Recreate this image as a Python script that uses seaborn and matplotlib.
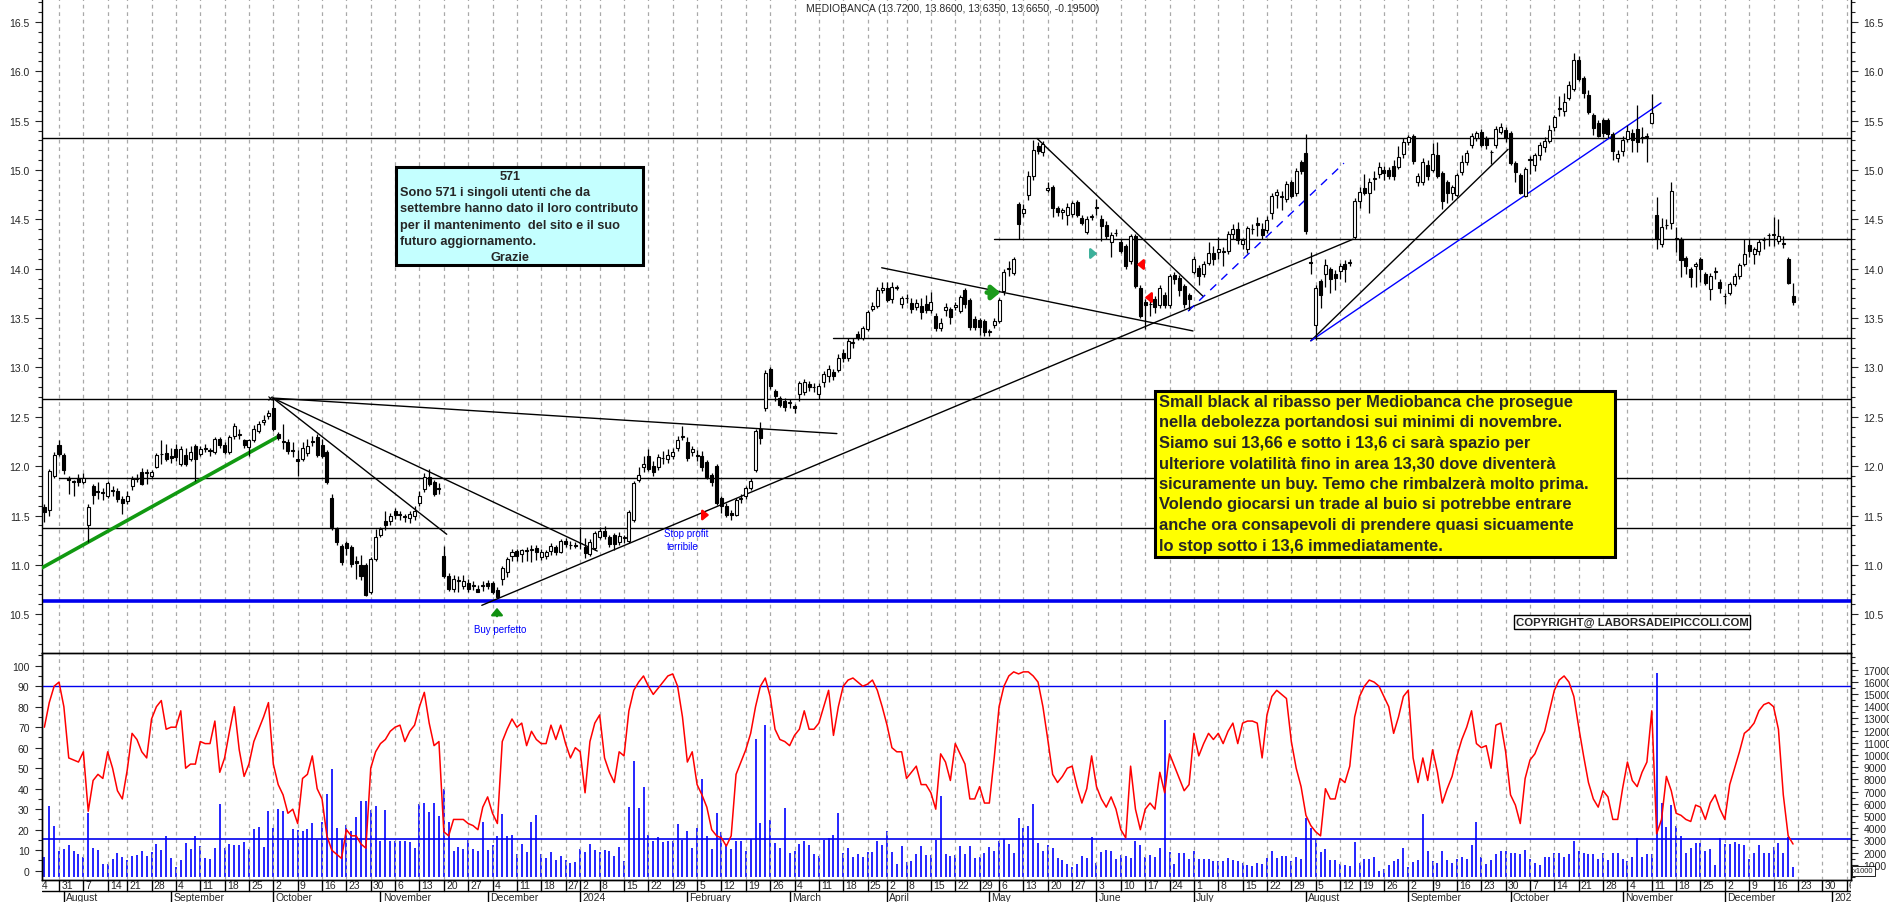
import numpy as np
import pandas as pd
import matplotlib
matplotlib.use("Agg")
import matplotlib.pyplot as plt
import matplotlib.transforms as mtrans
from matplotlib.patches import Rectangle, FancyArrowPatch
from matplotlib.ticker import MultipleLocator, FuncFormatter
import seaborn as sns

sns.set_style("white")
plt.rcParams["font.family"] = ["Liberation Sans", "DejaVu Sans"]

# ---------- DATA (daily candles from 26 Jul 2023 to 20 Dec 2024) ----------
opens = [
    11.59, 11.56, 11.90, 12.21, 12.11, 11.88, 11.85, 11.88, 11.84, 11.40,
    11.80, 11.75, 11.74, 11.70, 11.75, 11.75, 11.67, 11.65, 11.80, 11.87,
    11.94, 11.93, 11.90, 11.99, 12.12, 12.13, 12.10, 12.17, 12.02, 12.11,
    12.07, 12.20, 12.12, 12.17, 12.15, 12.14, 12.28, 12.21, 12.14, 12.31,
    12.32, 12.26, 12.19, 12.26, 12.36, 12.45, 12.51, 12.59, 12.33, 12.25,
    12.24, 12.16, 12.07, 12.07, 12.13, 12.25, 12.30, 12.21, 12.14, 11.68,
    11.36, 11.19, 11.22, 11.18, 11.04, 11.00, 11.00, 10.72, 11.06, 11.30,
    11.44, 11.44, 11.55, 11.52, 11.49, 11.47, 11.50, 11.63, 11.77, 11.89,
    11.84, 11.78, 11.09, 10.89, 10.76, 10.84, 10.79, 10.82, 10.80, 10.76,
    10.79, 10.82, 10.82, 10.75, 10.86, 10.93, 11.09, 11.14, 11.11, 11.14,
    11.15, 11.17, 11.08, 11.09, 11.14, 11.18, 11.13, 11.24, 11.20, 11.20,
    11.22, 11.18, 11.11, 11.17, 11.28, 11.34, 11.28, 11.30, 11.23, 11.27,
    11.24, 11.45, 11.86, 11.99, 12.10, 12.00, 11.99, 12.08, 12.07, 12.10,
    12.18, 12.30, 12.24, 12.14, 12.11, 12.10, 12.04, 11.91, 12.00, 11.68,
    11.60, 11.53, 11.51, 11.67, 11.70, 11.78, 11.96, 12.38, 12.59, 12.98,
    12.76, 12.69, 12.66, 12.64, 12.61, 12.73, 12.75, 12.83, 12.80, 12.73,
    12.85, 12.91, 12.95, 12.97, 13.15, 13.10, 13.25, 13.34, 13.30, 13.39,
    13.59, 13.62, 13.78, 13.80, 13.69, 13.81, 13.64, 13.70, 13.65, 13.61,
    13.62, 13.64, 13.58, 13.52, 13.40, 13.58, 13.59, 13.61, 13.57, 13.78,
    13.68, 13.49, 13.48, 13.47, 13.36, 13.43, 13.47, 13.77, 14.00, 13.96,
    14.66, 14.56, 14.75, 14.94, 15.24, 15.18, 14.80, 14.83, 14.62, 14.58,
    14.54, 14.55, 14.68, 14.51, 14.37, 14.52, 14.62, 14.50, 14.44, 14.27,
    14.36, 14.27, 14.23, 14.08, 14.33, 13.81, 13.66, 13.64, 13.69, 13.63,
    13.73, 13.63, 13.94, 13.91, 13.83, 13.73, 13.97, 14.01, 13.95, 14.06,
    14.16, 14.17, 14.17, 14.18, 14.35, 14.40, 14.25, 14.20, 14.40, 14.46,
    14.40, 14.39, 14.56, 14.75, 14.73, 14.71, 14.88, 14.77, 15.08, 15.17,
    14.07, 13.43, 13.88, 13.95, 14.00, 13.95, 13.98, 14.05, 14.06, 14.32,
    14.69, 14.82, 14.77, 14.91, 14.96, 15.00, 15.00, 15.04, 15.03, 15.16,
    15.28, 15.34, 14.88, 14.88, 15.05, 15.00, 15.15, 14.97, 14.88, 14.77,
    14.75, 14.98, 15.08, 15.25, 15.32, 15.39, 15.32, 15.18, 15.25, 15.39,
    15.41, 15.38, 15.07, 14.95, 14.74, 15.10, 15.05, 15.15, 15.23, 15.29,
    15.44, 15.62, 15.60, 15.73, 15.82, 16.12, 15.93, 15.76, 15.56, 15.48,
    15.51, 15.51, 15.37, 15.12, 15.19, 15.31, 15.38, 15.42, 15.33, 15.33,
    15.48, 14.54, 14.25, 14.44, 14.46, 14.31, 14.30, 14.11, 14.00, 14.03,
    14.10, 13.95, 13.79, 13.97, 13.87, 13.72, 13.75, 13.85, 13.93, 14.05,
    14.24, 14.15, 14.18, 14.29, 14.34, 14.34, 14.28, 14.25, 14.10, 13.72,
]
highs = [
    11.62, 11.97, 12.14, 12.26, 12.13, 11.90, 11.86, 11.92, 11.93, 11.62,
    11.82, 11.84, 11.78, 11.85, 11.80, 11.78, 11.70, 11.75, 11.90, 11.92,
    11.98, 11.97, 11.96, 12.13, 12.26, 12.22, 12.18, 12.22, 12.20, 12.18,
    12.20, 12.22, 12.20, 12.22, 12.18, 12.30, 12.30, 12.24, 12.32, 12.44,
    12.38, 12.28, 12.28, 12.42, 12.46, 12.52, 12.57, 12.68, 12.35, 12.43,
    12.28, 12.24, 12.16, 12.24, 12.28, 12.31, 12.33, 12.28, 12.16, 11.72,
    11.38, 11.21, 11.24, 11.20, 11.09, 11.10, 11.02, 11.08, 11.36, 11.38,
    11.55, 11.53, 11.58, 11.55, 11.52, 11.55, 11.60, 11.75, 11.93, 11.97,
    11.86, 11.83, 11.19, 10.92, 10.90, 10.89, 10.90, 10.86, 10.84, 10.80,
    10.84, 10.85, 10.84, 10.78, 10.99, 11.08, 11.16, 11.16, 11.16, 11.18,
    11.20, 11.20, 11.16, 11.15, 11.22, 11.20, 11.26, 11.27, 11.24, 11.23,
    11.38, 11.27, 11.26, 11.34, 11.38, 11.39, 11.30, 11.32, 11.33, 11.30,
    11.56, 11.85, 11.99, 12.10, 12.17, 12.05, 12.12, 12.15, 12.17, 12.18,
    12.31, 12.41, 12.30, 12.20, 12.16, 12.15, 12.06, 11.93, 12.02, 11.70,
    11.63, 11.56, 11.68, 11.72, 11.80, 11.88, 12.38, 12.45, 12.97, 13.00,
    12.78, 12.71, 12.69, 12.68, 12.63, 12.86, 12.88, 12.86, 12.84, 12.84,
    12.96, 13.02, 12.98, 13.14, 13.19, 13.30, 13.30, 13.37, 13.42, 13.58,
    13.66, 13.82, 13.87, 13.87, 13.87, 13.84, 13.72, 13.74, 13.70, 13.69,
    13.70, 13.73, 13.76, 13.55, 13.50, 13.65, 13.61, 13.66, 13.73, 13.81,
    13.70, 13.52, 13.50, 13.49, 13.39, 13.50, 13.70, 14.00, 14.08, 14.12,
    14.68, 14.66, 14.99, 15.30, 15.28, 15.29, 14.88, 14.85, 14.64, 14.62,
    14.67, 14.69, 14.70, 14.54, 14.53, 14.55, 14.71, 14.54, 14.48, 14.37,
    14.40, 14.30, 14.25, 14.35, 14.35, 13.84, 13.69, 13.72, 13.72, 13.84,
    13.76, 13.95, 13.97, 13.94, 13.85, 13.75, 14.13, 14.04, 14.08, 14.27,
    14.23, 14.32, 14.22, 14.38, 14.45, 14.47, 14.31, 14.43, 14.45, 14.52,
    14.46, 14.53, 14.77, 14.81, 14.79, 14.89, 14.90, 15.02, 15.10, 15.37,
    14.17, 13.84, 13.90, 14.10, 14.02, 13.99, 14.06, 14.09, 14.10, 14.72,
    14.83, 14.96, 14.92, 14.99, 15.08, 15.04, 15.03, 15.10, 15.24, 15.32,
    15.36, 15.37, 14.97, 15.12, 15.10, 15.27, 15.28, 14.99, 14.90, 14.85,
    14.97, 15.15, 15.20, 15.38, 15.40, 15.42, 15.35, 15.20, 15.45, 15.48,
    15.44, 15.40, 15.09, 14.97, 15.03, 15.14, 15.17, 15.28, 15.33, 15.46,
    15.56, 15.75, 15.78, 15.90, 16.19, 16.16, 15.95, 15.81, 15.58, 15.51,
    15.53, 15.53, 15.39, 15.20, 15.34, 15.46, 15.42, 15.66, 15.44, 15.38,
    15.77, 14.73, 14.51, 14.50, 14.88, 14.42, 14.32, 14.13, 14.02, 14.07,
    14.12, 13.97, 13.96, 14.02, 13.90, 13.75, 13.87, 13.96, 14.06, 14.30,
    14.30, 14.22, 14.30, 14.32, 14.36, 14.52, 14.50, 14.33, 14.12, 13.86,
]
lows = [
    11.43, 11.50, 11.88, 12.10, 11.92, 11.72, 11.70, 11.80, 11.82, 11.23,
    11.62, 11.67, 11.66, 11.68, 11.70, 11.64, 11.52, 11.62, 11.76, 11.84,
    11.81, 11.82, 11.88, 11.98, 12.02, 12.05, 12.03, 12.05, 12.00, 12.00,
    12.05, 11.85, 12.10, 12.14, 12.10, 12.12, 12.18, 12.12, 12.12, 12.28,
    12.28, 12.18, 12.10, 12.24, 12.34, 12.42, 12.48, 12.36, 12.27, 12.17,
    12.12, 12.09, 11.90, 12.05, 12.10, 12.20, 12.09, 12.08, 11.82, 11.35,
    11.20, 11.00, 11.10, 10.98, 10.86, 10.85, 10.68, 10.70, 11.04, 11.28,
    11.35, 11.40, 11.46, 11.45, 11.43, 11.42, 11.45, 11.60, 11.74, 11.80,
    11.70, 11.72, 10.87, 10.74, 10.72, 10.72, 10.76, 10.73, 10.75, 10.72,
    10.74, 10.76, 10.70, 10.66, 10.80, 10.88, 11.04, 11.04, 11.03, 11.04,
    11.03, 11.05, 11.05, 11.06, 11.10, 11.10, 11.12, 11.18, 11.16, 11.17,
    11.16, 11.07, 11.09, 11.15, 11.26, 11.26, 11.18, 11.15, 11.20, 11.22,
    11.22, 11.43, 11.84, 11.94, 11.95, 11.90, 11.96, 12.02, 12.03, 12.07,
    12.15, 12.27, 12.05, 12.10, 12.05, 11.95, 11.87, 11.80, 11.61, 11.53,
    11.48, 11.45, 11.49, 11.63, 11.67, 11.76, 11.94, 12.22, 12.56, 12.78,
    12.66, 12.60, 12.56, 12.59, 12.54, 12.66, 12.72, 12.76, 12.75, 12.68,
    12.80, 12.85, 12.87, 12.95, 13.06, 13.07, 13.20, 13.28, 13.28, 13.37,
    13.57, 13.60, 13.75, 13.66, 13.65, 13.78, 13.60, 13.65, 13.55, 13.58,
    13.49, 13.55, 13.55, 13.37, 13.37, 13.52, 13.44, 13.58, 13.55, 13.60,
    13.38, 13.38, 13.33, 13.32, 13.32, 13.40, 13.45, 13.73, 13.93, 13.94,
    14.30, 14.52, 14.70, 14.90, 15.16, 15.14, 14.78, 14.52, 14.53, 14.50,
    14.44, 14.52, 14.52, 14.44, 14.35, 14.49, 14.54, 14.28, 14.30, 14.12,
    14.33, 14.16, 14.00, 14.05, 13.80, 13.50, 13.39, 13.52, 13.55, 13.60,
    13.60, 13.60, 13.85, 13.72, 13.60, 13.58, 13.95, 13.84, 13.92, 14.04,
    14.04, 14.10, 14.03, 14.15, 14.30, 14.25, 14.20, 14.16, 14.35, 14.33,
    14.30, 14.36, 14.50, 14.62, 14.60, 14.68, 14.72, 14.74, 14.96, 14.35,
    13.95, 13.28, 13.60, 13.82, 13.75, 13.78, 13.90, 13.87, 14.03, 14.30,
    14.62, 14.75, 14.56, 14.80, 14.92, 14.90, 14.91, 14.90, 15.01, 15.12,
    15.25, 15.06, 14.84, 14.85, 14.90, 14.98, 14.92, 14.61, 14.67, 14.70,
    14.73, 14.95, 15.05, 15.22, 15.29, 15.23, 15.21, 15.06, 15.22, 15.37,
    15.28, 15.05, 14.88, 14.76, 14.73, 14.96, 14.99, 15.10, 15.18, 15.27,
    15.40, 15.55, 15.55, 15.71, 15.80, 15.90, 15.73, 15.57, 15.36, 15.33,
    15.33, 15.32, 15.10, 15.08, 15.14, 15.28, 15.18, 15.18, 15.27, 15.08,
    15.47, 14.20, 14.22, 14.40, 14.40, 14.17, 13.92, 13.95, 13.82, 13.82,
    13.87, 13.84, 13.68, 13.90, 13.75, 13.64, 13.73, 13.83, 13.90, 14.03,
    14.12, 14.05, 14.14, 14.20, 14.23, 14.23, 14.25, 14.21, 13.85, 13.635,
]
closes = [
    11.54, 11.95, 12.11, 12.12, 11.96, 11.86, 11.84, 11.84, 11.88, 11.59,
    11.71, 11.74, 11.73, 11.83, 11.76, 11.67, 11.63, 11.70, 11.87, 11.88,
    11.82, 11.94, 11.94, 12.11, 12.12, 12.07, 12.08, 12.09, 12.17, 12.02,
    12.14, 12.07, 12.17, 12.18, 12.16, 12.28, 12.21, 12.14, 12.30, 12.41,
    12.32, 12.21, 12.26, 12.38, 12.43, 12.47, 12.54, 12.38, 12.29, 12.24,
    12.15, 12.15, 12.05, 12.18, 12.20, 12.24, 12.11, 12.10, 11.84, 11.38,
    11.23, 11.03, 11.17, 11.01, 11.02, 10.89, 10.69, 11.06, 11.28, 11.36,
    11.40, 11.50, 11.51, 11.51, 11.48, 11.52, 11.55, 11.70, 11.89, 11.82,
    11.72, 11.77, 10.89, 10.76, 10.86, 10.85, 10.84, 10.76, 10.79, 10.73,
    10.80, 10.79, 10.72, 10.67, 10.97, 11.06, 11.13, 11.09, 11.15, 11.14,
    11.16, 11.13, 11.13, 11.13, 11.19, 11.13, 11.24, 11.21, 11.20, 11.19,
    11.22, 11.12, 11.23, 11.32, 11.34, 11.29, 11.21, 11.21, 11.29, 11.28,
    11.54, 11.83, 11.91, 12.02, 11.97, 11.94, 12.09, 12.08, 12.11, 12.14,
    12.27, 12.30, 12.08, 12.17, 12.10, 11.99, 11.89, 11.84, 11.63, 11.60,
    11.51, 11.51, 11.66, 11.68, 11.78, 11.85, 12.36, 12.29, 12.94, 12.81,
    12.71, 12.62, 12.60, 12.64, 12.59, 12.84, 12.85, 12.80, 12.80, 12.81,
    12.93, 12.98, 12.91, 13.10, 13.10, 13.27, 13.25, 13.30, 13.40, 13.56,
    13.62, 13.78, 13.81, 13.68, 13.82, 13.81, 13.70, 13.70, 13.59, 13.65,
    13.56, 13.58, 13.66, 13.40, 13.45, 13.61, 13.51, 13.63, 13.71, 13.64,
    13.41, 13.41, 13.41, 13.36, 13.36, 13.47, 13.68, 13.97, 14.01, 14.10,
    14.45, 14.61, 14.94, 15.20, 15.19, 15.26, 14.82, 14.62, 14.58, 14.60,
    14.63, 14.67, 14.54, 14.46, 14.50, 14.53, 14.62, 14.43, 14.33, 14.34,
    14.36, 14.18, 14.03, 14.33, 13.83, 13.52, 13.63, 13.64, 13.61, 13.81,
    13.63, 13.93, 13.90, 13.78, 13.64, 13.69, 14.10, 13.93, 14.05, 14.16,
    14.10, 14.20, 14.17, 14.35, 14.40, 14.29, 14.29, 14.41, 14.40, 14.44,
    14.34, 14.49, 14.74, 14.78, 14.74, 14.86, 14.74, 14.99, 14.99, 14.38,
    14.06, 13.81, 13.73, 14.04, 13.90, 13.91, 14.03, 14.00, 14.07, 14.69,
    14.78, 14.77, 14.88, 14.91, 15.03, 14.97, 14.94, 14.94, 15.13, 15.28,
    15.33, 15.09, 14.94, 15.08, 14.94, 15.16, 14.94, 14.69, 14.77, 14.83,
    14.95, 15.08, 15.17, 15.34, 15.38, 15.25, 15.25, 15.18, 15.42, 15.44,
    15.32, 15.07, 14.98, 14.77, 15.01, 15.11, 15.15, 15.25, 15.29, 15.41,
    15.54, 15.62, 15.69, 15.86, 16.12, 15.92, 15.78, 15.59, 15.43, 15.35,
    15.38, 15.37, 15.19, 15.16, 15.30, 15.40, 15.30, 15.28, 15.32, 15.35,
    15.58, 14.30, 14.42, 14.44, 14.79, 14.30, 14.09, 14.03, 13.92, 14.05,
    14.00, 13.86, 13.93, 13.97, 13.81, 13.72, 13.85, 13.93, 14.04, 14.15,
    14.18, 14.20, 14.27, 14.29, 14.34, 14.35, 14.33, 14.25, 13.86, 13.665,
]
# volume, thousands of shares
volume_k = [
    1.66, 5.79, 4.17, 2.13, 2.30, 2.62, 2.13, 1.88, 1.61, 5.26,
    2.38, 2.22, 1.07, 1.07, 1.48, 1.96, 1.65, 1.39, 1.75, 1.81,
    2.13, 1.75, 2.08, 2.70, 2.22, 3.36, 1.56, 0.86, 1.39, 2.79,
    2.30, 3.36, 2.55, 1.56, 1.48, 2.38, 5.99, 2.38, 2.70, 2.62,
    2.62, 2.87, 2.30, 3.95, 4.10, 2.47, 5.43, 4.01, 5.58, 5.43,
    3.04, 3.95, 3.86, 3.78, 3.95, 4.43, 3.04, 4.54, 6.82, 8.87,
    4.01, 3.12, 4.27, 3.78, 4.92, 6.23, 6.23, 5.49, 5.79, 2.96,
    5.53, 2.96, 2.96, 2.96, 2.96, 2.87, 2.38, 5.99, 6.08, 5.34,
    6.08, 5.00, 7.24, 4.48, 2.13, 2.47, 2.30, 3.04, 2.30, 2.17,
    4.48, 2.23, 2.62, 3.36, 5.19, 3.36, 3.41, 1.86, 2.69, 2.08,
    4.48, 5.12, 1.86, 1.53, 2.08, 1.36, 1.70, 1.36, 1.11, 1.19,
    2.27, 2.08, 2.69, 2.20, 2.08, 2.20, 2.17, 1.70, 2.50, 1.28,
    5.76, 9.54, 5.63, 7.41, 3.44, 2.96, 3.24, 2.86, 2.96, 2.92,
    4.38, 3.01, 3.76, 2.38, 4.05, 8.05, 3.36, 2.30, 5.26, 3.66,
    2.70, 2.30, 2.96, 2.96, 2.13, 3.12, 11.32, 4.43, 12.45, 4.70,
    2.79, 2.38, 5.66, 1.96, 2.13, 2.70, 2.96, 2.62, 1.88, 1.73,
    3.04, 3.21, 3.44, 5.26, 1.96, 2.38, 1.65, 1.88, 1.65, 2.05,
    2.05, 2.96, 2.62, 3.78, 2.05, 1.07, 2.55, 1.23, 1.31, 1.88,
    2.55, 1.81, 1.81, 3.06, 6.60, 1.88, 1.73, 1.81, 2.55, 1.88,
    2.55, 1.56, 1.65, 1.96, 2.47, 2.13, 2.96, 3.12, 2.70, 1.96,
    4.84, 4.01, 4.18, 5.99, 2.79, 2.13, 2.62, 2.38, 1.56, 1.39,
    1.07, 0.82, 1.07, 1.73, 1.56, 3.28, 1.14, 2.05, 2.22, 2.13,
    1.48, 1.81, 1.73, 1.56, 2.96, 2.62, 1.65, 1.81, 1.65, 2.38,
    12.90, 2.02, 1.07, 1.97, 1.97, 1.48, 2.13, 1.48, 1.48, 1.48,
    1.31, 1.31, 1.31, 1.56, 1.39, 1.31, 1.15, 0.98, 0.90, 1.15,
    1.07, 1.56, 2.13, 1.56, 1.72, 1.72, 1.31, 1.64, 1.48, 4.84,
    4.02, 3.11, 2.05, 2.30, 1.39, 1.39, 1.07, 0.98, 0.90, 2.87,
    1.15, 1.48, 1.48, 1.61, 0.52, 0.66, 1.00, 1.30, 1.50, 2.40,
    0.80, 1.20, 1.40, 5.20, 2.10, 1.30, 1.15, 2.10, 1.40, 1.15,
    1.50, 1.60, 1.50, 2.60, 4.50, 1.60, 1.10, 1.40, 1.90, 2.10,
    2.10, 2.00, 2.00, 1.90, 2.20, 1.50, 1.15, 1.00, 1.60, 1.60,
    2.00, 2.00, 1.60, 1.90, 2.95, 2.10, 2.00, 1.90, 1.90, 1.50,
    2.00, 1.40, 2.00, 2.00, 1.50, 1.30, 1.60, 3.20, 1.60, 1.90,
    1.90, 16.70, 6.10, 4.10, 5.90, 4.20, 3.40, 2.00, 2.40, 2.80,
    2.80, 2.10, 2.30, 1.00, 3.20, 2.70, 2.70, 2.90, 2.70, 2.60,
    1.50, 2.00, 2.60, 2.00, 2.00, 2.50, 2.80, 2.00, 3.30, 0.80,
]
# oscillator (red line), 0-100
oscillator = [
    70, 82, 90, 92, 80, 55, 54, 53, 58, 29,
    44, 47, 45, 58, 50, 39, 35, 49, 67, 64,
    58, 55, 74, 80, 83, 69, 70, 70, 78, 50,
    52, 52, 63, 62, 62, 73, 48, 55, 68, 80,
    59, 46, 52, 63, 69, 75, 82, 52, 42, 37,
    28, 30, 23, 45, 47, 56, 40, 35, 17, 10,
    8, 6, 20, 17, 17, 13, 11, 50, 58, 62,
    64, 68, 70, 71, 63, 68, 71, 80, 87, 72,
    61, 63, 19, 17, 25, 25, 25, 23, 22, 20,
    31, 36, 28, 23, 63, 69, 74, 70, 72, 61,
    68, 64, 62, 62, 71, 64, 71, 62, 55, 60,
    58, 38, 63, 72, 76, 55, 48, 43, 58, 56,
    78, 88, 92, 95, 90, 86, 89, 92, 95, 96,
    90, 75, 53, 58, 42, 37, 31, 20, 17, 16,
    12, 17, 47, 53, 59, 67, 80, 90, 94, 85,
    69, 64, 63, 61, 66, 69, 78, 69, 69, 72,
    80, 88, 66, 80, 90, 93, 94, 92, 90, 91,
    93, 88, 80, 71, 60, 58, 58, 45, 48, 51,
    42, 42, 38, 30, 57, 53, 44, 62, 57, 52,
    35, 35, 41, 33, 33, 55, 80, 90, 95, 97,
    96, 97, 97, 95, 92, 80, 64, 47, 43, 46,
    50, 51, 41, 33, 40, 56, 41, 35, 31, 36,
    30, 20, 16, 51, 30, 20, 30, 33, 30, 48,
    38, 57, 51, 45, 39, 42, 67, 56, 62, 67,
    64, 67, 62, 68, 72, 62, 72, 73, 73, 72,
    55, 76, 85, 88, 86, 84, 63, 50, 41, 27,
    22, 19, 17, 40, 35, 35, 45, 43, 51, 75,
    85, 90, 93, 92, 90, 85, 80, 67, 75, 85,
    88, 55, 43, 55, 44, 59, 48, 33, 40, 46,
    56, 64, 70, 78, 62, 60, 61, 50, 71, 72,
    58, 37, 32, 23, 45, 54, 57, 63, 68, 78,
    88, 93, 95, 92, 85, 70, 56, 43, 35, 31,
    39, 36, 25, 25, 40, 53, 44, 41, 48, 53,
    78, 18, 25, 46, 39, 28, 27, 25, 24, 32,
    31, 25, 33, 37, 30, 25, 42, 50, 58, 67,
    69, 72, 78, 81, 82, 80, 69, 37, 17, 13,
]

# levels and trend lines drawn by the analyst (day index, price)
h_levels = [15.32, 14.30, 13.30, 12.68, 11.88, 11.37]
h_starts = [-1, 195, 162, -1, 3, -1]
support_blue = 10.63
trend_lines = [
    ((-0.5, 10.97), (48.0, 12.30), "#119911", 2.6, "-"),
    ((46.9, 12.69), (162.7, 12.33), "black", 1.0, "-"),
    ((46.9, 12.69), (113.5, 11.14), "black", 1.0, "-"),
    ((46.9, 12.69), (82.6, 11.31), "black", 1.0, "-"),
    ((89.8, 10.59), (268.7, 14.30), "black", 1.0, "-"),
    ((171.9, 14.01), (235.8, 13.37), "black", 1.0, "-"),
    ((203.8, 15.32), (237.9, 13.72), "black", 1.0, "-"),
    ((234.8, 13.57), (266.8, 15.07), "blue", 1.0, "--"),
    ((260.0, 13.27), (300.5, 15.21), "black", 1.0, "-"),
    ((260.0, 13.27), (331.9, 15.68), "blue", 1.0, "-"),
]

HOLIDAYS = ["2023-08-15", "2023-12-25", "2023-12-26", "2024-01-01",
            "2024-03-29", "2024-04-01", "2024-05-01", "2024-08-15"]
MONTHS = ["", "", "February", "March", "April", "May", "June", "July",
          "August", "September", "October", "November", "December"]

TITLE = "MEDIOBANCA (13.7200, 13.8600, 13.6350, 13.6650, -0.19500)"
NOTE_571 = ["Sono 571 i singoli utenti che da",
            "settembre hanno dato il loro contributo",
            "per il mantenimento  del sito e il suo",
            "futuro aggiornamento."]
NOTE_YELLOW = ["Small black al ribasso per Mediobanca che prosegue",
               "nella debolezza portandosi sui minimi di novembre.",
               "Siamo sui 13,66 e sotto i 13,6 ci sarà spazio per",
               "ulteriore volatilità fino in area 13,30 dove diventerà",
               "sicuramente un buy. Temo che rimbalzerà molto prima.",
               "Volendo giocarsi un trade al buio si potrebbe entrare",
               "anche ora consapevoli di prendere quasi sicuamente",
               "lo stop sotto i 13,6 immediatamente."]

# ---------- CALENDAR ----------
cal = pd.bdate_range("2023-07-24", "2024-12-20")
cal = cal[~cal.isin(pd.to_datetime(HOLIDAYS))]
cal = cal.append(pd.bdate_range("2024-12-23", "2025-01-10"))
first = list(cal).index(pd.Timestamp("2023-07-26"))
cal_pos = np.arange(len(cal)) - first

iso = cal.isocalendar()
wk = list(zip(iso["year"], iso["week"]))
week_idx = [k for k in range(len(cal)) if k == 0 or wk[k] != wk[k - 1]]
month_idx = [k for k in range(1, len(cal)) if cal[k].month != cal[k - 1].month]

days = np.arange(len(closes))
o = np.array(opens); c = np.array(closes)
hi = np.array(highs); lo = np.array(lows)

# ---------- FIGURE ----------
W, H = 1890, 903
fig = plt.figure(figsize=(W / 100, H / 100), dpi=100)
fig.patch.set_facecolor("white")

def fx(x):
    return x / W

def fy(y):
    return 1 - y / H

left, right = 42, 1851
XLIM = (-0.49, 370.9)
ax1 = fig.add_axes([fx(left), fy(654), fx(right) - fx(left), 654 / H])
ax2 = fig.add_axes([fx(left), fy(880.7), fx(right) - fx(left), (880.7 - 654) / H])
ax3 = fig.add_axes([fx(left), 0, fx(right) - fx(left), fy(880.7)])
ax2v = ax2.twinx()

GRID = dict(color="#a9a9a9", lw=0.9, ls=(0, (3, 3)), zorder=0)
for ax in (ax1, ax2):
    ax.set_xlim(*XLIM)
    for k in week_idx:
        ax.axvline(cal_pos[k], **GRID)
ax2v.set_xlim(*XLIM)

# --- price panel ---
ax1.set_ylim(10.107, 16.733)
for lev, st in zip(h_levels, h_starts):
    ax1.plot([max(st, XLIM[0]), XLIM[1]], [lev, lev], color="black", lw=1.0, zorder=2)
ax1.axhline(support_blue, color="#0000ee", lw=2.6, zorder=2)
for (d1, p1), (d2, p2), col, lw, ls in trend_lines:
    ax1.plot([d1, d2], [p1, p2], color=col, lw=lw, ls=ls if ls == "-" else (0, (6, 5)), zorder=3)

ax1.vlines(days, lo, hi, color="black", lw=0.9, zorder=4)
up = c >= o
body = np.maximum(np.abs(c - o), 0.006)
ax1.bar(days[up], body[up], bottom=np.minimum(o, c)[up], width=0.62,
        facecolor="white", edgecolor="black", linewidth=0.8, zorder=5)
ax1.bar(days[~up], body[~up], bottom=np.minimum(o, c)[~up], width=0.62,
        facecolor="black", edgecolor="black", linewidth=0.8, zorder=5)
ax1.plot([46.4], [12.69], marker="x", color="black", ms=3.5, mew=0.8, zorder=6)

ax1.yaxis.set_major_locator(MultipleLocator(0.5))
ax1.yaxis.set_minor_locator(MultipleLocator(0.1))
ax1.yaxis.set_major_formatter(FuncFormatter(lambda v, p: f"{v:.1f}"))
ax1.tick_params(axis="y", which="both", left=True, right=True, labelleft=True,
                labelright=True, direction="out", labelsize=7.5, width=0.8, pad=4)
ax1.tick_params(axis="y", which="major", length=5)
ax1.tick_params(axis="y", which="minor", length=3)
ax1.set_xticks([])
for s in ("top", "bottom"):
    ax1.spines[s].set_visible(False)
for s in ("left", "right"):
    ax1.spines[s].set_color("black")
    ax1.spines[s].set_linewidth(1.0)

# --- oscillator / volume panel ---
ax2.set_ylim(-4.4, 106.2)
ax2v.set_ylim(-0.22, 18.36)
ax2.axhline(90, color="#0000ee", lw=1.0, zorder=1)
ax2.axhline(15.5, color="#0000ee", lw=1.2, zorder=1)
sns.lineplot(x=days, y=oscillator, ax=ax2, color="#ff0000", lw=1.1, zorder=3)
ax2v.vlines(days, 0, volume_k, color="#0000ff", lw=1.2, zorder=2)
ax2.set_zorder(ax2v.get_zorder() + 1)
ax2.patch.set_visible(False)

ax2.yaxis.set_major_locator(MultipleLocator(10))
ax2.yaxis.set_minor_locator(MultipleLocator(5))
ax2.tick_params(axis="y", which="both", direction="out", labelsize=7.5, width=0.8, pad=4)
ax2.tick_params(axis="y", which="major", length=5)
ax2.tick_params(axis="y", which="minor", length=3)
ax2.set_xticks([])
ax2.set_xlabel("")
ax2.set_ylabel("")
ax2v.set_yticks(np.arange(1, 18))
ax2v.set_yticklabels([f"{v * 1000}" for v in range(1, 18)])
ax2v.yaxis.set_minor_locator(MultipleLocator(0.5))
ax2v.tick_params(axis="y", which="both", direction="out", labelsize=7.5, width=0.8, pad=4)
ax2v.tick_params(axis="y", which="major", length=5)
ax2v.tick_params(axis="y", which="minor", length=3)
ax2v.set_xticks([])
for ax in (ax2, ax2v):
    for s in ax.spines.values():
        s.set_color("black")
        s.set_linewidth(1.0)

# --- date rows ---
ax3.set_xlim(*XLIM)
ax3.set_ylim(0, 1)
ax3.axis("off")
tr = mtrans.blended_transform_factory(ax3.transData, ax3.transAxes)
ax3.axhline(0.5, color="black", lw=1.0)
for k in week_idx:
    x = cal_pos[k]
    ax3.plot([x, x], [0.5, 1.0], color="black", lw=1.0, transform=tr)
    ax3.text(x + 0.45, 0.74, str(cal[k].day), transform=tr, fontsize=7.5,
             ha="left", va="center", clip_on=True)
for k in month_idx:
    x = cal_pos[k]
    lab = str(cal[k].year) if cal[k].month == 1 else MONTHS[cal[k].month]
    ax3.plot([x, x], [0.0, 0.5], color="black", lw=1.0, transform=tr)
    ax3.text(x + 0.45, 0.24, lab, transform=tr, fontsize=7.5,
             ha="left", va="center", clip_on=True)

# ---------- ANNOTATIONS ----------
fig.text(fx(806), fy(9), TITLE, fontsize=7.5, ha="left", va="center")
fig.text(fx(1853), fy(872), "x1000", fontsize=5.5, ha="left", va="center",
         bbox=dict(facecolor="white", edgecolor="black", lw=0.6, pad=0.8))

fig.add_artist(Rectangle((fx(396), fy(266)), fx(643) - fx(396), (266 - 168) / H,
                         transform=fig.transFigure, facecolor="#c4ffff",
                         edgecolor="black", lw=2.2, zorder=5))
fig.text(fx(510), fy(177), "571", fontsize=9.2, fontweight="bold", ha="center", va="center", zorder=6)
for i, line in enumerate(NOTE_571):
    fig.text(fx(400), fy(193 + 16.3 * i), line, fontsize=9.2, fontweight="bold",
             ha="left", va="center", zorder=6)
fig.text(fx(510), fy(258), "Grazie", fontsize=9.2, fontweight="bold", ha="center", va="center", zorder=6)

fig.add_artist(Rectangle((fx(1155), fy(558)), fx(1615) - fx(1155), (558 - 392) / H,
                         transform=fig.transFigure, facecolor="#ffff00",
                         edgecolor="black", lw=2.2, zorder=5))
for i, line in enumerate(NOTE_YELLOW):
    fig.text(fx(1159), fy(402 + 20.6 * i), line, fontsize=11.9, fontweight="bold",
             ha="left", va="center", zorder=6)

fig.text(fx(1632), fy(623), "COPYRIGHT@ LABORSADEIPICCOLI.COM", fontsize=8.2, fontweight="bold",
         ha="center", va="center", zorder=6,
         bbox=dict(facecolor="white", edgecolor="black", lw=1.0, pad=1.2))

fig.text(fx(686), fy(534), "Stop profit", fontsize=7, color="#0000ff", ha="center", va="center")
fig.text(fx(683), fy(547), "terribile", fontsize=7, color="#0000ff", ha="center", va="center")
fig.text(fx(500), fy(630), "Buy perfetto", fontsize=7, color="#0000ff", ha="center", va="center")

def arrow(x1, y1, x2, y2, col, lw, hw):
    fig.add_artist(FancyArrowPatch(
        (fx(x1), fy(y1)), (fx(x2), fy(y2)), transform=fig.transFigure,
        arrowstyle=f"-|>,head_width={hw},head_length={hw * 1.2}",
        color=col, lw=lw, mutation_scale=10, zorder=7))

arrow(497, 620, 497, 606, "#109010", 1.6, 0.35)
arrow(984, 293.5, 1003, 293.5, "#1a9a1a", 3.4, 0.4)
arrow(1090, 254.5, 1100, 254.5, "#3cb09a", 1.8, 0.3)
arrow(1145, 265.5, 1134, 265.5, "#ff0000", 1.8, 0.3)
arrow(1153, 298.5, 1142, 298.5, "#ff0000", 1.8, 0.3)
arrow(702, 516, 712, 516, "#ff0000", 1.8, 0.3)

fig.savefig("out.png", dpi=100, facecolor="white")
